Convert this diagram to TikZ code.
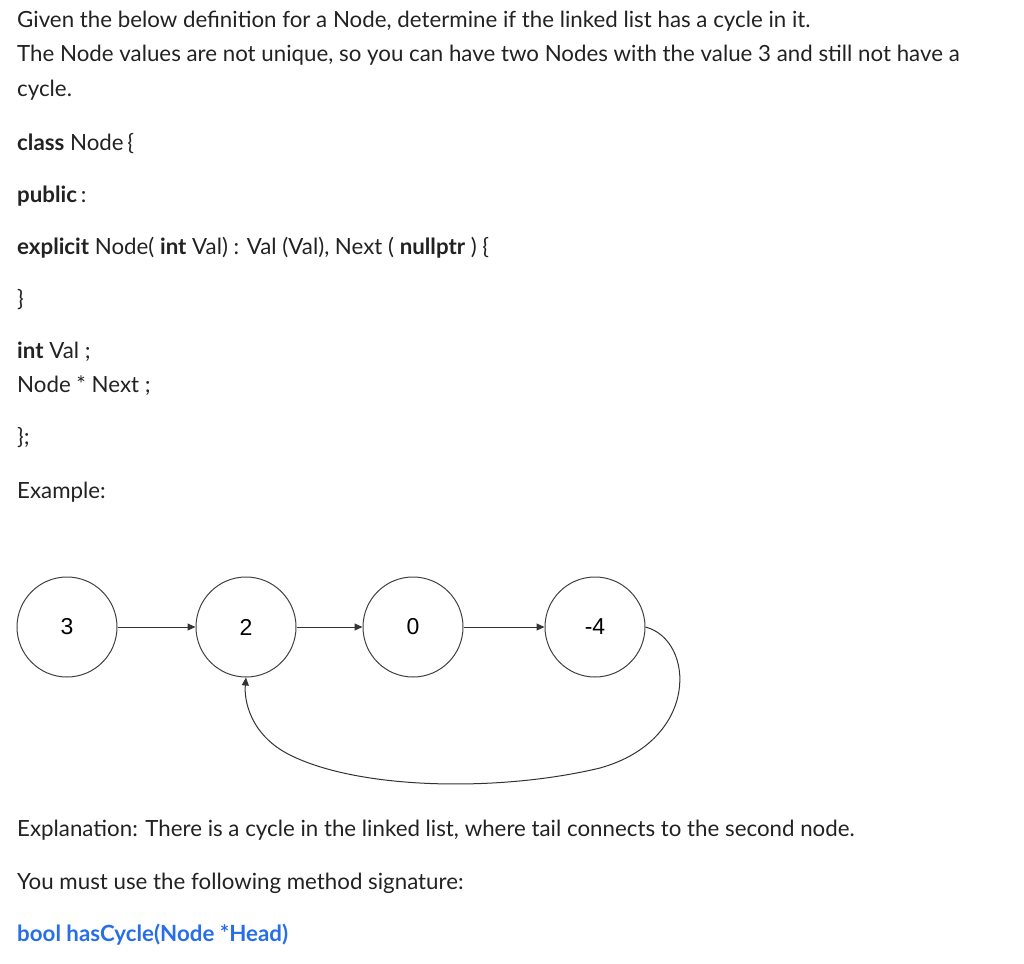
\documentclass[tikz,border=0pt]{standalone}
\usepackage{fontspec}
\setmainfont{Lato}
\newfontfamily\arialf{Liberation Sans}
\usetikzlibrary{arrows.meta}
\definecolor{txt}{RGB}{34,34,34}
\definecolor{linkblue}{RGB}{40,110,230}
\begin{document}
\begin{tikzpicture}[x=1pt,y=-1pt,
  t/.style={anchor=base west,inner sep=0pt,font=\fontsize{22.3}{26}\selectfont,text=txt},
  ll/.style={circle,draw=black!75,line width=1pt,minimum size=100pt,inner sep=0pt,font=\arialf\fontsize{23}{26}\selectfont},
  ar/.style={-{Triangle[length=8pt,width=7pt]},line width=1pt,draw=black!80}]
\useasboundingbox (0,0) rectangle (1024,963);
\node[t] (l1) at (17,28) {Given the below definition for a Node, determine if the linked list has a cycle in it.};
\node[t] (l2) at (17,62) {The Node values are not unique, so you can have two Nodes with the value 3 and still not have a};
\node[t] (l3) at (17,97) {cycle.};
\node[t] (l4) at (17,150) {\textbf{class} Node\,\{};
\node[t] (l5) at (17,202) {\textbf{public}\,:};
\node[t] (l6) at (17,254) {\textbf{explicit} Node( \textbf{int} Val) : Val (Val), Next ( \textbf{nullptr} ) \{};
\node[t] (l7) at (17,306) {\}};
\node[t] (l8) at (17,358) {\textbf{int} Val ;};
\node[t] (l9) at (17,392) {Node * Next ;};
\node[t] (l10) at (17,444) {\};};
\node[t] (l11) at (17,498) {Example:};
\node[t] (l12) at (17,836) {Explanation: There is a cycle in the linked list, where tail connects to the second node.};
\node[t] (l13) at (17,889) {You must use the following method signature:};
\node[t,text=linkblue] (l14) at (17,941) {\textbf{bool hasCycle(Node *Head)}};
\node[ll] (n1) at (67,627) {3};
\node[ll] (n2) at (246,627) {2};
\node[ll] (n3) at (413,627) {0};
\node[ll] (n4) at (595,627) {-4};
\draw[ar] (n1) -- (n2);
\draw[ar] (n2) -- (n3);
\draw[ar] (n3) -- (n4);
\draw[ar] (n4.east) .. controls (695,640) and (700,740) .. (600,768)
  .. controls (500,792) and (360,790) .. (290,755)
  .. controls (250,735) and (244,700) .. (n2.south);
\end{tikzpicture}
\end{document}
